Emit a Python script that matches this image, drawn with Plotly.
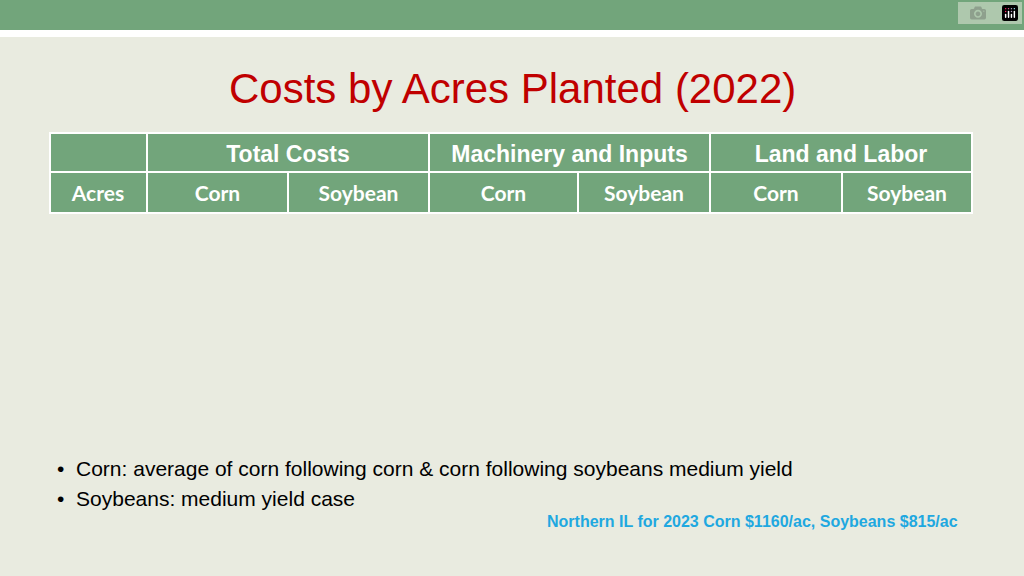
import plotly.graph_objects as go

groups = ["", "Total Costs", "Machinery and Inputs", "Land and Labor"]
sub_headers = ["Acres", "Corn", "Soybean", "Corn", "Soybean", "Corn", "Soybean"]
acres = ["100", "250", "500", "750", "1,000", "1,500", "2,000"]
total_corn = ["$81,324", "$203,309", "$406,618", "$609,926", "$813,235", "$1,219,853", "$1,626,470"]
total_soy = ["$57,496", "$143,740", "$287,480", "$431,220", "$574,960", "$862,440", "$1,149,920"]
mach_corn = ["$53,576", "$133,940", "$267,880", "$401,820", "$535,760", "$803,640", "$1,071,520"]
mach_soy = ["$30,556", "$76,390", "$152,780", "$229,170", "$305,560", "$458,340", "$611,120"]
land_corn = ["$27,748", "$69,369", "$138,738", "$208,106", "$277,475", "$416,213", "$554,950"]
land_soy = ["$26,940", "$67,350", "$134,700", "$202,050", "$269,400", "$404,100", "$538,800"]

W, H = 1024, 576
x0, x1 = 50, 972
green = "#72a57b"
row_colors = ["#e9ece6" if i % 2 == 0 else "#d5e0d2" for i in range(len(acres))]

fig = go.Figure()
fig.add_trace(go.Table(
    domain=dict(x=[x0 / W, x1 / W], y=[1 - 172 / H, 1 - 133 / H]),
    columnwidth=[97, 282, 281, 262],
    header=dict(values=["<b>%s</b>" % g if g else "" for g in groups], fill_color=green,
                line_color="white", line_width=2, align="center", height=38,
                font=dict(family="Liberation Sans", size=23, color="white")),
))
cols = [acres, total_corn, total_soy, mach_corn, mach_soy, land_corn, land_soy]
fig.add_trace(go.Table(
    domain=dict(x=[x0 / W, x1 / W], y=[1 - 450 / H, 1 - 172 / H]),
    columnwidth=[97, 141, 141, 149, 132, 132, 130],
    header=dict(values=["<b>%s</b>" % s for s in sub_headers], fill_color=green,
                line_color="white", line_width=2, align="center", height=33,
                font=dict(family="Lato", size=21, color="white")),
    cells=dict(values=cols, fill_color=[row_colors] * 7, line_color="white", line_width=2,
               align=["center"] + ["right"] * 6, height=31.4,
               font=dict(family="Lato", size=21, color="black")),
))

fig.add_shape(type="rect", xref="paper", yref="paper", x0=0, x1=1, y0=1 - 30 / H, y1=1,
              fillcolor="#72a57b", line_width=0, layer="below")
fig.add_shape(type="rect", xref="paper", yref="paper", x0=0, x1=1, y0=1 - 37 / H, y1=1 - 30 / H,
              fillcolor="white", line_width=0, layer="below")

fig.add_annotation(text="Costs by Acres Planted (2022)", x=512 / W, y=1 - 88 / H, xref="paper", yref="paper",
                   showarrow=False, yanchor="middle",
                   font=dict(family="Liberation Sans Narrow, Liberation Sans", size=42, color="#c00000"))
fig.add_annotation(text="•  Corn: average of corn following corn & corn following soybeans medium yield",
                   x=55 / W, y=1 - 468 / H, xref="paper", yref="paper", xanchor="left", yanchor="middle",
                   showarrow=False, font=dict(family="Liberation Sans", size=21, color="black"))
fig.add_annotation(text="•  Soybeans: medium yield case",
                   x=55 / W, y=1 - 498 / H, xref="paper", yref="paper", xanchor="left", yanchor="middle",
                   showarrow=False, font=dict(family="Liberation Sans", size=21, color="black"))
fig.add_annotation(text="<b>Northern IL for 2023 Corn $1160/ac, Soybeans $815/ac</b>",
                   x=960 / W, y=1 - 521 / H, xref="paper", yref="paper", xanchor="right", yanchor="middle",
                   showarrow=False, font=dict(family="Liberation Sans", size=16, color="#1fa8e0"))

fig.update_layout(width=W, height=H, margin=dict(l=0, r=0, t=0, b=0),
                  paper_bgcolor="#e9ebe0", plot_bgcolor="#e9ebe0", showlegend=False)
fig.write_html("out.html", post_script="document.body.style.margin='0';document.body.style.overflow='hidden';")
